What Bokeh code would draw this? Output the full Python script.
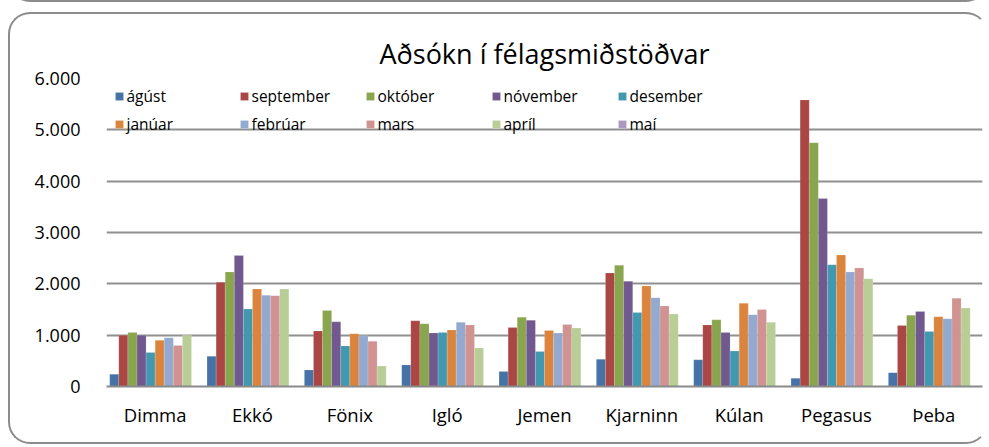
from bokeh.plotting import figure
from bokeh.models import (FactorRange, Range1d, FixedTicker, CustomJSTickFormatter,
                          Legend, LegendItem, ColumnDataSource)
from bokeh.transform import dodge
from bokeh.embed import file_html
from bokeh.resources import INLINE

categories = ["Dimma", "Ekkó", "Fönix", "Igló", "Jemen", "Kjarninn", "Kúlan", "Pegasus", "Þeba"]
months = ["ágúst", "september", "október", "nóvember", "desember",
          "janúar", "febrúar", "mars", "apríl", "maí"]

agust = [240, 590, 320, 420, 290, 530, 520, 160, 270]
september = [1000, 2030, 1080, 1280, 1150, 2210, 1200, 5580, 1190]
oktober = [1050, 2230, 1480, 1220, 1350, 2360, 1300, 4750, 1390]
november = [1000, 2550, 1260, 1040, 1290, 2050, 1050, 3660, 1460]
desember = [660, 1510, 790, 1050, 680, 1440, 690, 2370, 1070]
januar = [900, 1900, 1030, 1100, 1090, 1960, 1620, 2560, 1360]
februar = [950, 1780, 990, 1250, 1040, 1730, 1400, 2230, 1320]
mars = [800, 1770, 880, 1200, 1210, 1570, 1500, 2310, 1720]
april = [1000, 1900, 400, 750, 1140, 1410, 1250, 2100, 1530]
mai = [0, 0, 0, 0, 0, 0, 0, 0, 0]

series = [agust, september, oktober, november, desember, januar, februar, mars, april, mai]
colors = ["#4572A7", "#AA4643", "#89A54E", "#71588F", "#4198AF",
          "#DB843D", "#93A9CF", "#D19392", "#B9CD96", "#A99BBD"]
y_ticks = [0, 1000, 2000, 3000, 4000, 5000, 6000]

FONT = "Open Sans"

data = {"cat": categories}
keys = []
for i, s in enumerate(series):
    k = "s%d" % i
    keys.append(k)
    data[k] = s
source = ColumnDataSource(data)

p = figure(width=976, height=428, x_range=FactorRange(factors=categories, range_padding=0),
           y_range=Range1d(0, 6000), output_backend="svg", toolbar_location=None,
           min_border_left=96, min_border_right=8, min_border_top=64, min_border_bottom=60)
p.margin = (12, 0, 0, 8)
p.styles = {"box-sizing": "content-box",
            "border": "2.5px solid #8c8c8c", "border-right-color": "transparent",
            "border-radius": "22px",
            "box-shadow": "0 -442px 0 -2.5px #ffffff, 0 -442px 0 0 #8c8c8c"}
p.border_fill_color = None
p.background_fill_color = "white"
p.outline_line_color = None

p.title.text = "Aðsókn í félagsmiðstöðvar"
p.title.text_font = FONT
p.title.text_font_size = "27px"
p.title.text_font_style = "normal"
p.title.align = "center"
p.title.text_color = "#000000"
p.title.standoff = 13

w = 0.0934
renderers = []
for i, k in enumerate(keys):
    r = p.vbar(x=dodge("cat", (i - 4.5) * w, range=p.x_range), top=k, width=w,
               source=source, fill_color=colors[i], line_color="white",
               line_alpha=0.3, line_width=0.5)
    renderers.append(r)

p.xgrid.grid_line_color = None
p.ygrid.grid_line_color = "#8f8f8f"
p.ygrid.grid_line_width = 2

p.yaxis.ticker = FixedTicker(ticks=y_ticks)
p.yaxis.formatter = CustomJSTickFormatter(code="""
const s = Math.round(tick).toString();
return s.replace(/\\B(?=(\\d{3})+(?!\\d))/g, ".");
""")
p.yaxis.axis_line_color = None
p.yaxis.major_tick_line_color = None
p.yaxis.minor_tick_line_color = None
p.yaxis.major_label_standoff = 20
p.yaxis.major_label_text_font = FONT
p.yaxis.major_label_text_font_size = "18px"
p.yaxis.major_label_text_color = "#000000"

p.xaxis.axis_line_color = "#8a8a8a"
p.xaxis.axis_line_width = 2
p.xaxis.major_tick_line_color = None
p.xaxis.minor_tick_line_color = None
p.xaxis.major_label_standoff = 9
p.xaxis.major_label_text_font = FONT
p.xaxis.major_label_text_font_size = "18.5px"
p.xaxis.major_label_text_color = "#000000"

legend_x = [7.5, 132.5, 258.5, 384.5, 510.5]
for c in range(5):
    items = [LegendItem(label=months[c], renderers=[renderers[c]]),
             LegendItem(label=months[c + 5], renderers=[renderers[c + 5]])]
    leg = Legend(items=items, location=(legend_x[c], 251), orientation="vertical",
                 padding=0, margin=0, spacing=6, glyph_width=10, glyph_height=10,
                 label_standoff=3, label_height=20, label_text_font=FONT,
                 label_text_font_size="15.5px", label_text_color="#000000",
                 border_line_color=None, background_fill_alpha=0)
    p.add_layout(leg, "center")

open("out.html", "w").write(file_html(p, INLINE))
